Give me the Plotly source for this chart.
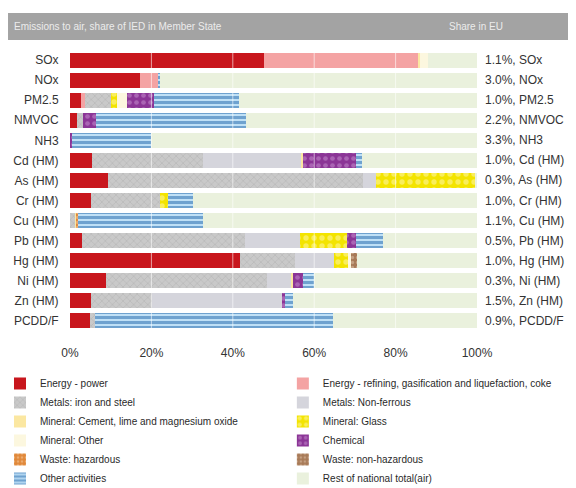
import plotly.graph_objects as go

categories = ["SOx", "NOx", "PM2.5", "NMVOC", "NH3", "Cd (HM)", "As (HM)", "Cr (HM)",
              "Cu (HM)", "Pb (HM)", "Hg (HM)", "Ni (HM)", "Zn (HM)", "PCDD/F"]
eu_share = [1.1, 3.0, 1.0, 2.2, 3.3, 1.0, 0.3, 1.0, 1.1, 0.5, 1.0, 0.3, 1.5, 0.9]

energy_power     = [47.7, 17.2, 2.7, 1.6, 0.0, 5.3, 9.3, 5.1, 0.0, 2.9, 41.8, 8.8, 5.2, 4.9]
energy_refining  = [37.7, 4.4, 1.1, 0.0, 0.0, 0.0, 0.0, 0.0, 0.0, 0.0, 0.0, 0.0, 0.0, 0.0]
metals_iron      = [0.0, 0.0, 6.3, 1.5, 0.0, 27.3, 62.7, 17.0, 1.2, 40.1, 13.5, 39.5, 14.9, 1.2]
metals_nonferr   = [0.0, 0.0, 0.0, 0.0, 0.0, 24.3, 3.3, 0.0, 0.0, 13.5, 9.6, 5.9, 31.9, 0.0]
mineral_cement   = [0.5, 0.0, 0.0, 0.0, 0.0, 0.4, 0.0, 0.0, 0.5, 0.0, 0.0, 0.5, 0.0, 0.0]
mineral_glass    = [0.0, 0.0, 1.5, 0.0, 0.0, 0.0, 24.2, 2.0, 0.0, 11.6, 3.5, 0.0, 0.0, 0.0]
mineral_other    = [2.0, 0.0, 2.5, 0.0, 0.0, 0.0, 0.0, 0.0, 0.0, 0.0, 0.6, 0.0, 0.0, 0.0]
chemical         = [0.0, 0.0, 6.6, 3.4, 0.5, 13.0, 0.0, 0.0, 0.0, 2.2, 0.0, 2.6, 0.8, 0.0]
waste_haz        = [0.0, 0.0, 0.0, 0.0, 0.0, 0.0, 0.0, 0.0, 0.3, 0.0, 0.0, 0.0, 0.0, 0.0]
waste_nonhaz     = [0.0, 0.0, 0.0, 0.0, 0.0, 0.0, 0.0, 0.0, 0.0, 0.0, 1.6, 0.0, 0.0, 0.0]
other_activities = [0.0, 0.6, 20.9, 36.8, 19.5, 1.4, 0.0, 6.1, 30.6, 6.6, 0.0, 2.7, 1.9, 58.4]
rest_national    = [12.1, 77.8, 58.4, 56.7, 80.0, 28.3, 0.5, 69.8, 67.4, 23.1, 29.4, 40.0, 45.3, 35.5]

x_ticks = [0, 20, 40, 60, 80, 100]
x_tick_labels = ["0%", "20%", "40%", "60%", "80%", "100%"]

series = [
    ("Energy - power", energy_power, "#c8161d", None),
    ("Energy - refining, gasification and liquefaction, coke", energy_refining, "#f4a3a3", None),
    ("Metals: iron and steel", metals_iron, "#c9c9c9", dict(shape="x", fgcolor="#a6a6a6", size=5, solidity=0.25)),
    ("Metals: Non-ferrous", metals_nonferr, "#d5d5dc", None),
    ("Mineral: Cement, lime and magnesium oxide", mineral_cement, "#fbe7a1", None),
    ("Mineral: Glass", mineral_glass, "#f3e400", dict(shape=".", fgcolor="#fff7b8", size=8, solidity=0.35)),
    ("Mineral: Other", mineral_other, "#fcf7df", None),
    ("Chemical", chemical, "#8b3596", dict(shape=".", fgcolor="#c993d2", size=7, solidity=0.35)),
    ("Waste: hazardous", waste_haz, "#e0883a", dict(shape=".", fgcolor="#f6cfa6", size=5, solidity=0.35)),
    ("Waste: non-hazardous", waste_nonhaz, "#a77a58", dict(shape=".", fgcolor="#e3c8ae", size=5, solidity=0.35)),
    ("Other activities", other_activities, "#bfe0f6", dict(shape="-", fgcolor="#1f63a8", size=5, solidity=0.6)),
    ("Rest of national total(air)", rest_national, "#eaf1dd", None),
]

fig = go.Figure()
for i, (name, vals, color, pattern) in enumerate(series):
    marker = dict(color=color, line=dict(width=0))
    if pattern:
        marker["pattern"] = dict(fillmode="overlay", **pattern)
    fig.add_trace(go.Bar(y=categories, x=vals, name=name, orientation="h", marker=marker,
                         legend="legend" if i % 2 == 0 else "legend2"))

FONT = "Liberation Sans, Arial, sans-serif"
leg_common = dict(orientation="v", yanchor="top", xanchor="left", y=-0.1352,
                  font=dict(family=FONT, size=10, color="#2a2a2a"),
                  traceorder="normal", bgcolor="rgba(0,0,0,0)", itemwidth=30)

fig.update_layout(
    width=568, height=480,
    margin=dict(l=62, r=99, t=42, b=157, autoexpand=False),
    barmode="stack", bargap=0.25,
    plot_bgcolor="white", paper_bgcolor="white",
    font=dict(family=FONT, size=12, color="#333333"),
    xaxis=dict(range=[0, 100], tickmode="array", tickvals=x_ticks, ticktext=x_tick_labels,
               showgrid=False, zeroline=False, ticks="outside", ticklen=11,
               tickcolor="rgba(0,0,0,0)", tickfont=dict(size=12, color="#333333")),
    yaxis=dict(autorange="reversed", ticks="outside", ticklen=8, tickcolor="rgba(0,0,0,0)",
               showgrid=False, tickfont=dict(size=12, color="#333333")),
    legend=dict(x=-0.172, **leg_common),
    legend2=dict(x=0.523, **leg_common),
    showlegend=True,
)

# gridlines drawn over the bars
for t in x_ticks[1:-1]:
    fig.add_shape(type="line", x0=t, x1=t, y0=0, y1=1, xref="x", yref="paper",
                  line=dict(color="rgba(255,255,255,0.6)", width=1), layer="above")

# header band
fig.add_shape(type="rect", xref="paper", yref="paper", x0=-0.1523, x1=1.25, y0=1.0356, y1=1.1317,
              fillcolor="#a3a3a3", line=dict(width=0), layer="below")
fig.add_annotation(text="Emissions to air, share of IED in Member State", xref="paper", yref="paper",
                   x=-0.1425, y=1.083, xanchor="left", yanchor="middle", showarrow=False,
                   font=dict(family=FONT, size=10, color="#ececec"))
fig.add_annotation(text="Share in EU", xref="paper", yref="paper",
                   x=0.926, y=1.083, xanchor="left", yanchor="middle", showarrow=False,
                   font=dict(family=FONT, size=10, color="#ececec"))

# right-hand share labels
for cat, share in zip(categories, eu_share):
    fig.add_annotation(text=f"{share:.1f}%, {cat}", xref="paper", yref="y", x=1.0, y=cat,
                       xanchor="left", yanchor="middle", xshift=6, showarrow=False,
                       font=dict(family=FONT, size=12, color="#333333"))

fig.write_html("out.html")
